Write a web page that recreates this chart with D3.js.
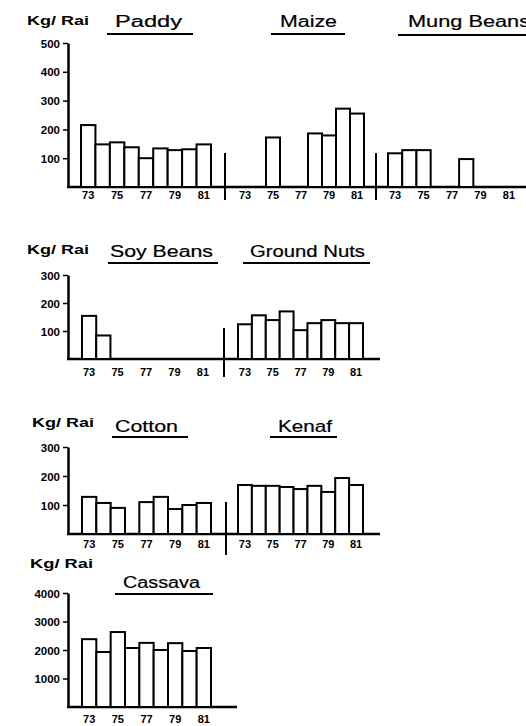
<!DOCTYPE html>
<html>
<head>
<meta charset="utf-8">
<script src="https://cdn.jsdelivr.net/npm/d3@7"></script>
<style>
  html, body { margin: 0; padding: 0; background: #fff; }
  svg { display: block; }
  .tick text { font-family: "Liberation Sans", Arial, sans-serif; font-weight: bold; fill: #000; }
</style>
</head>
<body>
<svg id="chart" width="526" height="726"></svg>
<script>
// ---------------- data ----------------
const years = [73, 74, 75, 76, 77, 78, 79, 80, 81];
const yearLabels = [73, 75, 77, 79, 81];
const unitLabel = "Kg/ Rai";

const paddy      = [215, 148, 155, 138, 100, 134, 128, 131, 148];
const maize      = [null, null, 172, null, null, 186, 179, 272, 255];
const mungBeans  = [117, 128, 128, null, null, 97, null, null, null];
const soyBeans   = [154, 84, null, null, null, null, null, null, null];
const groundNuts = [124, 156, 139, 170, 103, 128, 139, 128, 128];
const cotton     = [128, 107, 90, null, 110, 128, 86, 100, 107];
const kenaf      = [169, 166, 166, 162, 155, 166, 145, 193, 169];
const cassava    = [2380, 1930, 2630, 2070, 2250, 2000, 2240, 1965, 2070];

const ticksRow1 = [100, 200, 300, 400, 500];
const ticksRow2 = [100, 200, 300];
const ticksRow3 = [100, 200, 300];
const ticksRow4 = [1000, 2000, 3000, 4000];

// ---------------- layout ----------------
const rows = [
  { ticks: ticksRow1, base: 187, top: 43, lineEnd: 526, labelPad: 4, sepY: [153, 200],
    unit: { x: 27, y: 25, w: 62 },
    panels: [
      { name: "Paddy", data: paddy, x0: 81, x1: 211, title: { x: 115, y: 27, w: 67 }, ul: [107, 193, 34] },
      { name: "Maize", data: maize, x0: 238, x1: 364, sep: 225, title: { x: 280, y: 27, w: 57 }, ul: [271, 345, 34] },
      { name: "Mung Beans", data: mungBeans, x0: 388, x1: 516, sep: 376, title: { x: 408, y: 27, w: 122 }, ul: [398, 526, 35] }
    ] },
  { ticks: ticksRow2, base: 359, top: 275, lineEnd: 380, labelPad: 9, sepY: [328, 377],
    unit: { x: 27, y: 254, w: 62 },
    panels: [
      { name: "Soy Beans", data: soyBeans, x0: 82, x1: 210, title: { x: 110, y: 257, w: 103 }, ul: [108, 218, 263] },
      { name: "Ground Nuts", data: groundNuts, x0: 238, x1: 363, sep: 224, title: { x: 250, y: 257, w: 115 }, ul: [243, 370, 263] }
    ] },
  { ticks: ticksRow3, base: 534, top: 447, lineEnd: 380, labelPad: 6, sepY: [502, 555],
    unit: { x: 32, y: 427, w: 62 },
    panels: [
      { name: "Cotton", data: cotton, x0: 82, x1: 211, title: { x: 115, y: 432, w: 63 }, ul: [112, 188, 437] },
      { name: "Kenaf", data: kenaf, x0: 238, x1: 363, sep: 226, title: { x: 278, y: 432, w: 54 }, ul: [270, 337, 437] }
    ] },
  { ticks: ticksRow4, base: 707, top: 593, lineEnd: 237, labelPad: 8, sepY: null,
    unit: { x: 30, y: 568, w: 63 },
    panels: [
      { name: "Cassava", data: cassava, x0: 82, x1: 211, title: { x: 123, y: 588, w: 77 }, ul: [115, 213, 594] }
    ] }
];

const svg = d3.select("#chart");
const axisX = 68;

rows.forEach(row => {
  const maxV = row.ticks[row.ticks.length - 1];
  const y = d3.scaleLinear().domain([0, maxV]).range([row.base, row.top]);

  // unit label
  svg.append("text")
    .attr("x", row.unit.x).attr("y", row.unit.y)
    .attr("textLength", row.unit.w).attr("lengthAdjust", "spacingAndGlyphs")
    .style("font-family", "Liberation Sans, Arial, sans-serif")
    .style("font-weight", "bold").style("font-size", "12px")
    .text(unitLabel);

  // y axis
  const yAxis = d3.axisLeft(y).tickValues(row.ticks).tickFormat(d3.format("d"))
    .tickSize(5).tickSizeOuter(0).tickPadding(3);
  const ga = svg.append("g").attr("transform", `translate(${axisX},0)`).call(yAxis);
  ga.select(".domain").attr("stroke", "#000").attr("stroke-width", 2.5);
  ga.selectAll(".tick line").attr("stroke", "#000").attr("stroke-width", 1.5);
  ga.selectAll(".tick text").style("font-size", "11.5px").attr("dy", "0.36em");

  // baseline
  svg.append("line")
    .attr("x1", axisX - 1).attr("x2", row.lineEnd)
    .attr("y1", y(0)).attr("y2", y(0))
    .attr("stroke", "#000").attr("stroke-width", 2.5);

  row.panels.forEach(p => {
    const x = d3.scaleBand().domain(years).range([p.x0, p.x1]).padding(0);

    // separator
    if (p.sep !== undefined) {
      svg.append("line")
        .attr("x1", p.sep).attr("x2", p.sep)
        .attr("y1", row.sepY[0]).attr("y2", row.sepY[1])
        .attr("stroke", "#000").attr("stroke-width", 2);
    }

    // bars
    const pts = years.map((yr, i) => ({ yr, v: p.data[i] })).filter(d => d.v !== null);
    svg.append("g").selectAll("rect").data(pts).join("rect")
      .attr("x", d => x(d.yr))
      .attr("y", d => y(d.v))
      .attr("width", x.bandwidth())
      .attr("height", d => y(0) - y(d.v))
      .attr("fill", "#fff")
      .attr("stroke", "#000")
      .attr("stroke-width", 2);

    // x labels
    const xAxis = d3.axisBottom(x).tickValues(yearLabels).tickSize(0).tickPadding(row.labelPad);
    const gx = svg.append("g").attr("transform", `translate(0,${row.base})`).call(xAxis);
    gx.select(".domain").remove();
    gx.selectAll(".tick text").style("font-size", "11px");

    // title
    svg.append("text")
      .attr("x", p.title.x).attr("y", p.title.y)
      .attr("textLength", p.title.w).attr("lengthAdjust", "spacingAndGlyphs")
      .style("font-family", "Liberation Sans, Arial, sans-serif")
      .style("font-size", "16px")
      .style("stroke", "#000").style("stroke-width", 0.2)
      .text(p.name);

    // underline
    svg.append("line")
      .attr("x1", p.ul[0]).attr("x2", p.ul[1])
      .attr("y1", p.ul[2]).attr("y2", p.ul[2])
      .attr("stroke", "#000").attr("stroke-width", 2);
  });
});
</script>
</body>
</html>
